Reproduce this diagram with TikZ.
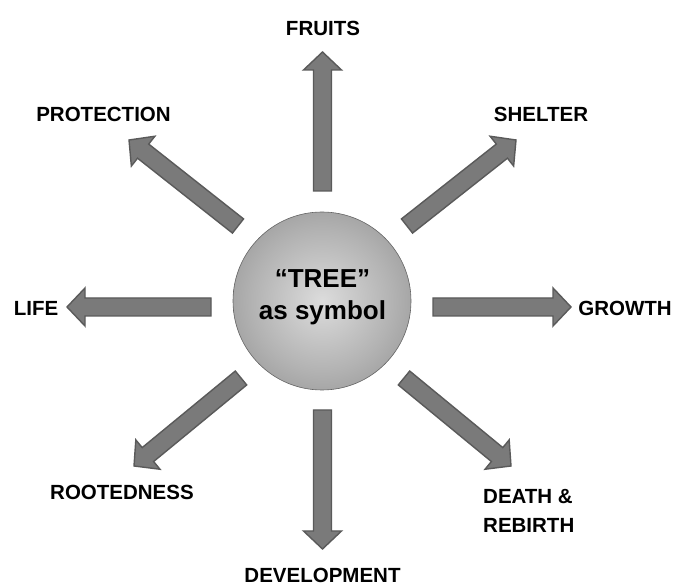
\documentclass[tikz,border=0pt]{standalone}
\usepackage{fontspec}
\setmainfont{Liberation Sans}
\usetikzlibrary{calc}
\definecolor{arrowfill}{RGB}{122,122,122}
\definecolor{arrowedge}{RGB}{90,90,90}
\definecolor{ballin}{RGB}{220,220,220}
\definecolor{ballmid}{RGB}{178,178,178}
\definecolor{ballout}{RGB}{118,118,118}
\definecolor{balledge}{RGB}{100,100,100}
\pgfdeclareradialshading{treeball}{\pgfpoint{0bp}{0bp}}{color(0bp)=(ballin); color(20bp)=(ballmid); color(46bp)=(ballout); color(50bp)=(ballout)}
\tikzset{
  bigarrow/.style={fill=arrowfill, draw=arrowedge, line width=1.4pt, line join=miter},
  lbl/.style={font=\bfseries\fontsize{20.5}{29}\selectfont, inner sep=0pt, anchor=base},
  ball/.style={circle, minimum size=178pt, inner sep=0pt, shading=treeball, draw=balledge, line width=0.6pt},
  balltext/.style={font=\bfseries\fontsize{26}{32}\selectfont, align=center, inner sep=0pt}
}
\newcommand\fatarrow[2]{%
  \coordinate (#1h) at ($(#2)!18pt!(#1)$);
  \filldraw[bigarrow] ($(#1)!9pt!90:(#2)$) -- ($(#1h)!9pt!90:(#2)$) -- ($(#1h)!19pt!90:(#2)$) -- (#2)
    -- ($(#1h)!19pt!-90:(#2)$) -- ($(#1h)!9pt!-90:(#2)$) -- ($(#1)!9pt!-90:(#2)$) -- cycle;}
\begin{document}
\begin{tikzpicture}[x=1pt,y=1pt]
\useasboundingbox (0,0) rectangle (677,586);
% centre
\node[ball] (c) at (322,285) {};
\node[balltext] (title) at (322.5,288.5) {“TREE”\\as symbol};
% labels
\node[lbl] (fruits) at (323,550) {FRUITS};
\node[lbl] (protection) at (103.5,464) {PROTECTION};
\node[lbl] (shelter) at (541,464) {SHELTER};
\node[lbl] (life) at (36,270) {LIFE};
\node[lbl] (growth) at (625,270) {GROWTH};
\node[lbl] (rootedness) at (122,86) {ROOTEDNESS};
\node[lbl, anchor=base west, align=left] (death) at (483,53) {DEATH \&\\REBIRTH};
\node[lbl] (development) at (322.5,3) {DEVELOPMENT};
% arrow ends
\coordinate (us) at (322.5,395); \coordinate (ue) at (322.5,534);
\coordinate (ds) at (322.5,176); \coordinate (de) at (322.5,37);
\coordinate (rs) at (433,279);   \coordinate (re) at (571,279);
\coordinate (ls) at (211,279);   \coordinate (le) at (67,279);
\coordinate (nes) at (407,360);  \coordinate (nee) at (516,446);
\coordinate (nws) at (238,360);  \coordinate (nwe) at (129,446);
\coordinate (ses) at (404,208);  \coordinate (see) at (511,120);
\coordinate (sws) at (241,208);  \coordinate (swe) at (134,120);
\fatarrow{us}{ue}
\fatarrow{ds}{de}
\fatarrow{rs}{re}
\fatarrow{ls}{le}
\fatarrow{nes}{nee}
\fatarrow{nws}{nwe}
\fatarrow{ses}{see}
\fatarrow{sws}{swe}
\end{tikzpicture}
\end{document}
